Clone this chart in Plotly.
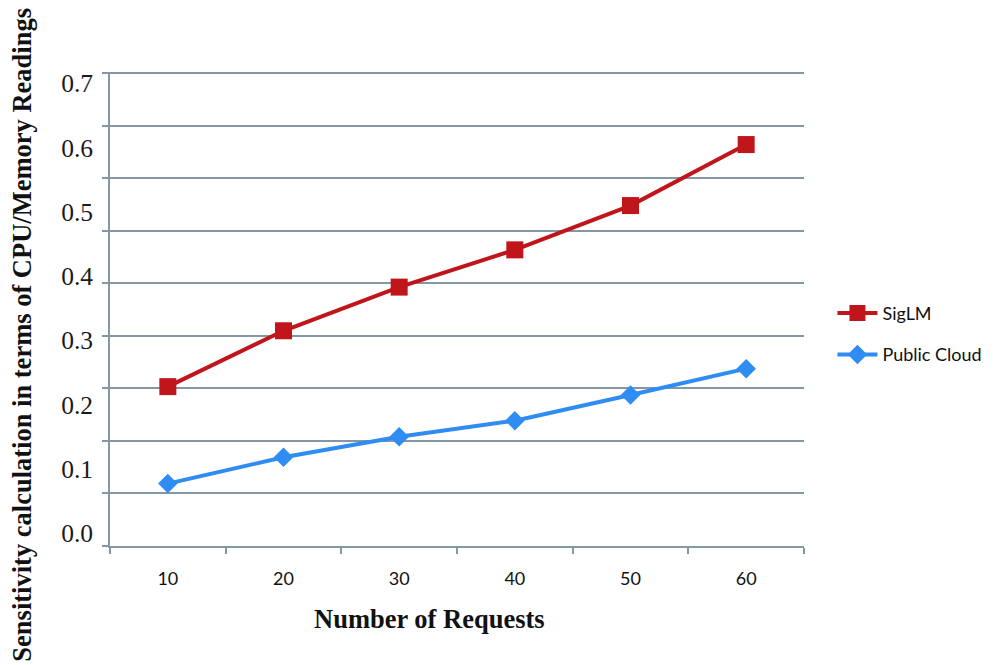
import plotly.graph_objects as go

# Number of requests (x categories) and sensitivity readings per system
requests = ["10", "20", "30", "40", "50", "60"]
siglm = [0.228, 0.315, 0.383, 0.441, 0.510, 0.605]
public_cloud = [0.077, 0.118, 0.150, 0.175, 0.215, 0.256]

y_tick_values = [0.0, 0.1, 0.2, 0.3, 0.4, 0.5, 0.6, 0.7]
grid_steps = 9  # horizontal grid bands in the plot area

RED = "#C0151B"
BLUE = "#2F8CF2"
GRID = "#8596A6"
SERIF = "Liberation Serif"
SANS = "Lato"

fig = go.Figure()

fig.add_trace(go.Scatter(
    x=requests, y=siglm, name="SigLM", mode="lines+markers",
    line=dict(color=RED, width=4),
    marker=dict(symbol="square", size=17, color=RED),
    legendgroup="a",
))
fig.add_trace(go.Scatter(
    x=requests, y=public_cloud, name="Public Cloud", mode="lines+markers",
    line=dict(color=BLUE, width=4),
    marker=dict(symbol="diamond", size=15, color=BLUE),
    legendgroup="b",
))
# empty trace so the grid axis gets drawn
fig.add_trace(go.Scatter(x=[], y=[], yaxis="y2", showlegend=False, hoverinfo="skip"))

fig.update_layout(
    width=1000, height=665,
    margin=dict(l=110, r=196, t=72, b=119),
    paper_bgcolor="white", plot_bgcolor="white",
    showlegend=True,
    legend=dict(
        x=1.041, y=0.53, xanchor="left", yanchor="top",
        font=dict(family=SANS, size=18, color="#111"),
        tracegroupgap=15, traceorder="grouped",
        itemwidth=40,
    ),
    xaxis=dict(
        type="category", range=[-0.5, 5.5],
        tickson="boundaries", ticks="outside", ticklen=6, tickwidth=2, tickcolor=GRID,
        showline=True, linecolor=GRID, linewidth=2,
        showgrid=False, zeroline=False,
        tickfont=dict(family=SANS, size=18, color="#111"),
        ticklabelstandoff=15,
    ),
    yaxis=dict(
        range=[-0.0202, 0.718],
        tickvals=y_tick_values, tickformat=".1f",
        showgrid=False, zeroline=False, showline=False, ticks="",
        tickfont=dict(family=SERIF, size=25.5, color="#1a1a1a"),
        ticklabelstandoff=16,
    ),
    yaxis2=dict(
        overlaying="y", side="left",
        range=[0, grid_steps + 0.02], dtick=1,
        showgrid=True, gridcolor=GRID, gridwidth=2,
        showline=True, linecolor=GRID, linewidth=2,
        ticks="outside", ticklen=6, tickwidth=2, tickcolor=GRID,
        showticklabels=False, zeroline=False,
    ),
    annotations=[
        dict(
            text="<b>Sensitivity calculation in terms of CPU/Memory Readings</b>",
            xref="paper", yref="paper", x=-0.126, y=0.445,
            xanchor="center", yanchor="middle", textangle=-90, showarrow=False,
            font=dict(family=SERIF, size=26.5, color="#111"),
        ),
        dict(
            text="<b>Number of Requests</b>",
            xref="paper", yref="paper", x=0.46, y=-0.155,
            xanchor="center", yanchor="middle", showarrow=False,
            font=dict(family=SERIF, size=26.5, color="#111"),
        ),
    ],
)

fig.write_html("out.html")
